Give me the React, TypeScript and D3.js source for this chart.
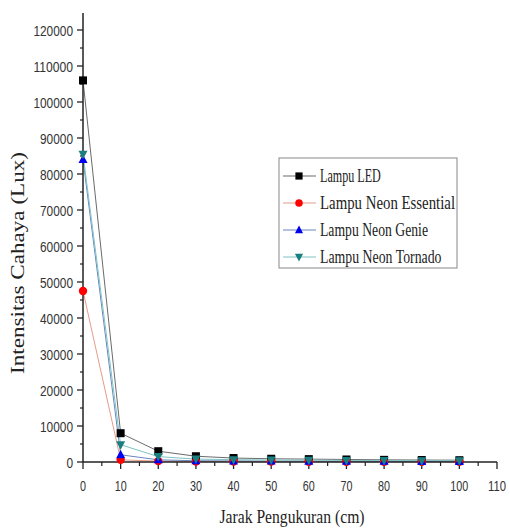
import React from "react";
import * as d3 from "d3";

const distances = [0, 10, 20, 30, 40, 50, 60, 70, 80, 90, 100];
const ledValues = [106000, 8000, 3000, 1600, 1100, 900, 800, 700, 600, 550, 500];
const essentialValues = [47500, 600, 250, 150, 120, 100, 90, 80, 70, 60, 50];
const genieValues = [84000, 2000, 600, 350, 300, 250, 220, 200, 180, 160, 150];
const tornadoValues = [85500, 4800, 1500, 800, 650, 550, 500, 450, 400, 380, 350];

const seriesNames = ["Lampu LED", "Lampu Neon Essential", "Lampu Neon Genie", "Lampu Neon Tornado"];
const markerColors = ["#000000", "#ff0000", "#0000ee", "#1a7f7f"];
const lineColors = ["#6a6a6a", "#e89a8a", "#6a86c0", "#7ec4c4"];
const markerTypes = ["square", "circle", "triangle", "triangleDown"];

const xTicks = [0, 10, 20, 30, 40, 50, 60, 70, 80, 90, 100, 110];
const yTicks = [0, 10000, 20000, 30000, 40000, 50000, 60000, 70000, 80000, 90000, 100000, 110000, 120000];

const xTitle = "Jarak Pengukuran (cm)";
const yTitle = "Intensitas Cahaya (Lux)";

function Marker({ type, x, y, color, s = 1 }: any) {
  if (type === "square") return <rect x={x - 4 * s} y={y - 4 * s} width={8 * s} height={8 * s} fill={color} />;
  if (type === "circle") return <circle cx={x} cy={y} r={4.2 * s} fill={color} />;
  if (type === "triangle")
    return <path d={`M${x},${y - 5 * s}L${x + 4.5 * s},${y + 3.5 * s}L${x - 4.5 * s},${y + 3.5 * s}Z`} fill={color} />;
  return <path d={`M${x},${y + 5 * s}L${x + 4.5 * s},${y - 3.5 * s}L${x - 4.5 * s},${y - 3.5 * s}Z`} fill={color} />;
}

export default function App() {
  const x = d3.scaleLinear().domain([0, 110]).range([83, 497]);
  const y = d3.scaleLinear().domain([0, 120000]).range([462, 30]);
  const allSeries = [ledValues, essentialValues, genieValues, tornadoValues];
  const line = d3
    .line<number>()
    .x((_, i) => x(distances[i]))
    .y((v) => y(v));
  const xMinor = d3.range(5, 110, 10);
  const yMinor = d3.range(5000, 125000, 10000);
  const legendRows = [182, 209, 236, 263];

  return (
    <svg width={510} height={528} style={{ position: "absolute", left: 0, top: 0 }}>
      <rect width={510} height={528} fill="#fff" />
      {allSeries.map((vals, si) => (
        <path key={"l" + si} d={line(vals) || ""} fill="none" stroke={lineColors[si]} strokeWidth={1} />
      ))}
      <line x1={83} x2={83} y1={13} y2={462} stroke="#222" strokeWidth={1.5} />
      <line x1={83} x2={497} y1={462} y2={462} stroke="#222" strokeWidth={1.5} />
      {yTicks.map((t) => (
        <g key={"yt" + t}>
          <line x1={77} x2={83} y1={y(t)} y2={y(t)} stroke="#222" strokeWidth={1.3} />
          <text
            x={73}
            y={y(t)}
            dy="0.36em"
            textAnchor="end"
            fontFamily="Liberation Sans, Arial, sans-serif"
            fontSize={15.5}
            fill="#333"
            textLength={String(t).length * 6.6}
            lengthAdjust="spacingAndGlyphs"
          >
            {t}
          </text>
        </g>
      ))}
      {yMinor.map((t) => (
        <line key={"ym" + t} x1={80} x2={83} y1={y(t)} y2={y(t)} stroke="#222" strokeWidth={1.2} />
      ))}
      {xTicks.map((t) => (
        <g key={"xt" + t}>
          <line x1={x(t)} x2={x(t)} y1={462} y2={469} stroke="#222" strokeWidth={1.3} />
          <text
            x={x(t)}
            y={490.5}
            textAnchor="middle"
            fontFamily="Liberation Sans, Arial, sans-serif"
            fontSize={15.5}
            fill="#333"
            textLength={String(t).length * 6}
            lengthAdjust="spacingAndGlyphs"
          >
            {t}
          </text>
        </g>
      ))}
      {xMinor.map((t) => (
        <line key={"xm" + t} x1={x(t)} x2={x(t)} y1={462} y2={466} stroke="#222" strokeWidth={1.2} />
      ))}
      {allSeries.map((vals, si) =>
        vals.map((v, i) => (
          <Marker key={`m${si}-${i}`} type={markerTypes[si]} x={x(distances[i])} y={y(v)} color={markerColors[si]} />
        ))
      )}
      <text
        x={292}
        y={523}
        textAnchor="middle"
        fontFamily="Liberation Serif, Times New Roman, serif"
        fontSize={18.5}
        fill="#222"
        textLength={145}
        lengthAdjust="spacingAndGlyphs"
      >
        {xTitle}
      </text>
      <text
        transform="translate(24,263) rotate(-90)"
        textAnchor="middle"
        fontFamily="Liberation Serif, Times New Roman, serif"
        fontSize={18}
        fill="#222"
        textLength={222}
        lengthAdjust="spacingAndGlyphs"
      >
        {yTitle}
      </text>
      <rect x={279} y={158} width={178} height={110} fill="#fff" stroke="#888" strokeWidth={1} />
      {seriesNames.map((name, si) => (
        <g key={"lg" + si}>
          <line x1={283} x2={316} y1={legendRows[si] - 6} y2={legendRows[si] - 6} stroke={lineColors[si]} strokeWidth={1.2} />
          <Marker type={markerTypes[si]} x={299} y={legendRows[si] - 6} color={markerColors[si]} s={0.9} />
          <text
            x={320}
            y={legendRows[si]}
            fontFamily="Liberation Serif, Times New Roman, serif"
            fontSize={19.5}
            fill="#222"
            textLength={name.length * 6.75}
            lengthAdjust="spacingAndGlyphs"
          >
            {name}
          </text>
        </g>
      ))}
    </svg>
  );
}
